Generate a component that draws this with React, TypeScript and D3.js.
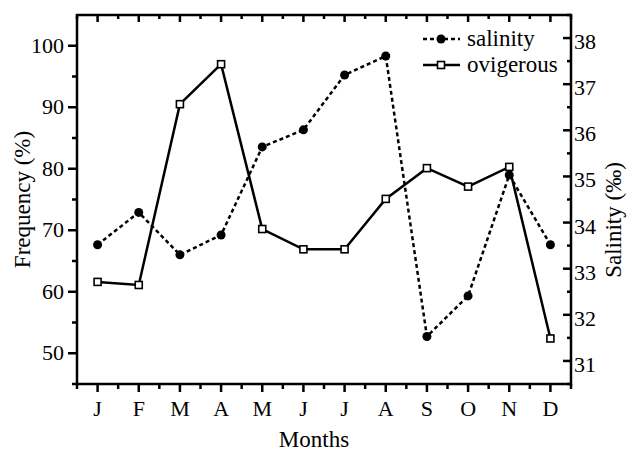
import React from 'react';
import * as d3 from 'd3';

const months = ['J', 'F', 'M', 'A', 'M', 'J', 'J', 'A', 'S', 'O', 'N', 'D'];
const salinity = [33.52, 34.22, 33.3, 33.73, 35.64, 36.01, 37.2, 37.61, 31.53, 32.41, 35.03, 33.52];
const ovigerous = [61.6, 61.1, 90.5, 97.0, 70.2, 66.9, 66.9, 75.1, 80.1, 77.1, 80.3, 52.4];
const freqTicks = [50, 60, 70, 80, 90, 100];
const salTicks = [31, 32, 33, 34, 35, 36, 37, 38];

const W = 632;
const H = 452;
const left = 77;
const right = 571;
const top = 15;
const bottom = 384;
const font = "'Liberation Serif', 'Times New Roman', serif";

const App = () => {
  const x = d3.scaleLinear().domain([0.5, 12.5]).range([left, right]);
  const yL = d3.scaleLinear().domain([45, 105]).range([bottom, top]);
  const yR = d3.scaleLinear().domain([30.5, 38.5]).range([bottom, top]);

  const idx = d3.range(months.length);
  const salLine = d3.line<number>().x(i => x(i + 1)).y(i => yR(salinity[i]));
  const ovLine = d3.line<number>().x(i => x(i + 1)).y(i => yL(ovigerous[i]));

  const minorX = d3.range(0.5, 13, 1);
  const minorL = d3.range(45, 105, 5).filter(v => v % 10 !== 0);
  const minorR = d3.range(30.5, 38.6, 1);

  return (
    <svg width={W} height={H}
      style={{ position: 'fixed', left: 0, top: 0, background: '#fff', fontFamily: font }}>
      {/* plot frame */}
      <rect x={left} y={top} width={right - left} height={bottom - top}
        fill="none" stroke="#000" strokeWidth={2.5} />

      {/* bottom / top ticks */}
      {idx.map(i => (
        <g key={'xt' + i}>
          <line x1={x(i + 1)} x2={x(i + 1)} y1={bottom} y2={bottom + 8} stroke="#000" strokeWidth={2.5} />
          <line x1={x(i + 1)} x2={x(i + 1)} y1={top} y2={top + 7} stroke="#000" strokeWidth={2.5} />
          <text x={x(i + 1)} y={416} textAnchor="middle" fontSize={22}>{months[i]}</text>
        </g>
      ))}
      {minorX.map(v => (
        <g key={'xm' + v}>
          <line x1={x(v)} x2={x(v)} y1={bottom} y2={bottom + 5} stroke="#000" strokeWidth={2.5} />
          <line x1={x(v)} x2={x(v)} y1={top} y2={top + 4} stroke="#000" strokeWidth={2.5} />
        </g>
      ))}

      {/* left axis */}
      {freqTicks.map(v => (
        <g key={'l' + v}>
          <line x1={left - 9} x2={left} y1={yL(v)} y2={yL(v)} stroke="#000" strokeWidth={2.5} />
          <text x={left - 13} y={yL(v) + 7} textAnchor="end" fontSize={22}>{v}</text>
        </g>
      ))}
      {minorL.map(v => (
        <line key={'lm' + v} x1={left - 5} x2={left} y1={yL(v)} y2={yL(v)} stroke="#000" strokeWidth={2.5} />
      ))}

      {/* right axis */}
      {salTicks.map(v => (
        <g key={'r' + v}>
          <line x1={right - 8} x2={right} y1={yR(v)} y2={yR(v)} stroke="#000" strokeWidth={2.5} />
          <text x={right + 3} y={yR(v) + 11} textAnchor="start" fontSize={22}>{v}</text>
        </g>
      ))}
      {minorR.map(v => (
        <line key={'rm' + v} x1={right - 4} x2={right} y1={yR(v)} y2={yR(v)} stroke="#000" strokeWidth={2.5} />
      ))}

      {/* axis titles */}
      <text transform={`translate(30,${(top + bottom) / 2}) rotate(-90)`} textAnchor="middle" fontSize={23}>
        Frequency (%)
      </text>
      <text transform={`translate(621,220) rotate(-90)`} textAnchor="middle" fontSize={23}>
        Salinity (‰)
      </text>
      <text x={314} y={447} textAnchor="middle" fontSize={23}>Months</text>

      {/* series */}
      <path d={salLine(idx) || ''} fill="none" stroke="#000" strokeWidth={2.5} strokeDasharray="4,3" />
      <path d={ovLine(idx) || ''} fill="none" stroke="#000" strokeWidth={2.5} />
      {idx.map(i => (
        <circle key={'c' + i} cx={x(i + 1)} cy={yR(salinity[i])} r={4.5} fill="#000" />
      ))}
      {idx.map(i => (
        <rect key={'s' + i} x={x(i + 1) - 3.5} y={yL(ovigerous[i]) - 3.5} width={7} height={7}
          fill="#fff" stroke="#000" strokeWidth={1.6} />
      ))}

      {/* legend */}
      <g>
        <line x1={423} x2={460} y1={39} y2={39} stroke="#000" strokeWidth={2.5} strokeDasharray="4,3" />
        <circle cx={441} cy={39} r={4.5} fill="#000" />
        <text x={467} y={46} fontSize={23}>salinity</text>
        <line x1={423} x2={460} y1={65} y2={65} stroke="#000" strokeWidth={2.5} />
        <rect x={437.5} y={61.5} width={7} height={7} fill="#fff" stroke="#000" strokeWidth={1.6} />
        <text x={467} y={72} fontSize={23}>ovigerous</text>
      </g>
    </svg>
  );
};

export default App;
